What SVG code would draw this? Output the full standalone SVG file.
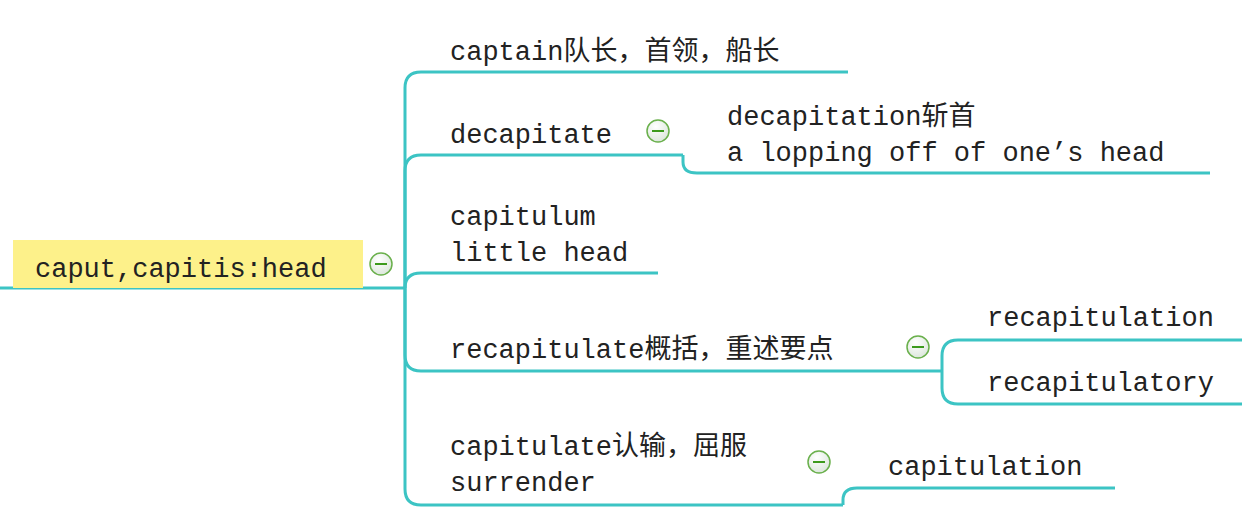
<svg xmlns="http://www.w3.org/2000/svg" width="1242" height="522" viewBox="0 0 1242 522">
<style>
.t{font-family:"Liberation Mono","Noto Sans CJK SC",monospace;font-size:27px;fill:#222}
.c{fill:none;stroke:#3cc4c4;stroke-width:3}
.ic circle{fill:url(#g);stroke:#6ab04c;stroke-width:1.5}
.ic line{stroke:#3c9a1c;stroke-width:2}
</style>
<defs><radialGradient id="g" cx="0.4" cy="0.3" r="0.8"><stop offset="0" stop-color="#ffffff"/><stop offset="1" stop-color="#d8e4d8"/></radialGradient></defs>
<rect width="1242" height="522" fill="#fff"/>
<g id="connectors">
<path class="c" d="M0 288H405"/>
<path class="c" d="M405 288V88Q405 72 421 72H848"/>
<path class="c" d="M405 288V171Q405 155 421 155H683"/>
<path class="c" d="M405 288Q405 273 421 273H658"/>
<path class="c" d="M405 288V355Q405 371 421 371H942"/>
<path class="c" d="M405 288V489Q405 505 421 505H843"/>
<path class="c" d="M683 155V162Q683 173 697 173H1210"/>
<path class="c" d="M942 371V356Q942 340 958 340H1242"/>
<path class="c" d="M942 371V388Q942 404 958 404H1242"/>
<path class="c" d="M843 505V500Q843 488 857 488H1115"/>
</g>
<g id="root"><rect x="13" y="240" width="350" height="48" fill="#fdf18a"/><text class="t" x="35" y="277">caput,capitis:head</text>
<g class="ic"><circle cx="381" cy="264" r="11"/><line x1="375" y1="264" x2="387" y2="264"/></g></g>
<g id="n1"><text class="t" x="450" y="60">captain队长，首领，船长</text></g>
<g id="n2"><text class="t" x="450" y="143">decapitate</text>
<g class="ic"><circle cx="658" cy="131" r="11"/><line x1="652" y1="131" x2="664" y2="131"/></g></g>
<g id="n21"><text class="t" x="727" y="125">decapitation斩首</text><text class="t" x="727" y="161">a lopping off of one’s head</text></g>
<g id="n3"><text class="t" x="450" y="225">capitulum</text><text class="t" x="450" y="261">little head</text></g>
<g id="n4"><text class="t" x="450" y="358">recapitulate概括，重述要点</text>
<g class="ic"><circle cx="918" cy="347" r="11"/><line x1="912" y1="347" x2="924" y2="347"/></g></g>
<g id="n41"><text class="t" x="987" y="326">recapitulation</text></g>
<g id="n42"><text class="t" x="987" y="391">recapitulatory</text></g>
<g id="n5"><text class="t" x="450" y="455">capitulate认输，屈服</text><text class="t" x="450" y="491">surrender</text>
<g class="ic"><circle cx="819" cy="462" r="11"/><line x1="813" y1="462" x2="825" y2="462"/></g></g>
<g id="n51"><text class="t" x="888" y="475">capitulation</text></g>
</svg>
